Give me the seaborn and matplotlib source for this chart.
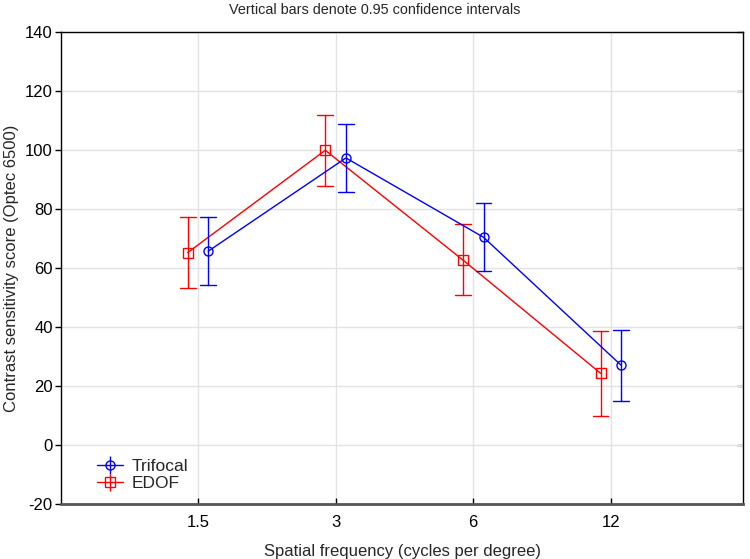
import numpy as np
import pandas as pd
import matplotlib
matplotlib.use("Agg")
import matplotlib.pyplot as plt
import seaborn as sns

# ---- data ----
frequencies = ["1.5", "3", "6", "12"]
trifocal_mean = [65.7, 97.3, 70.4, 27.0]
trifocal_low = [54.2, 85.8, 58.9, 15.0]
trifocal_high = [77.2, 108.9, 82.0, 39.0]
edof_mean = [65.2, 99.9, 62.7, 24.3]
edof_low = [53.1, 87.7, 50.8, 9.7]
edof_high = [77.4, 111.9, 74.8, 38.7]
groups = ["Trifocal", "EDOF"]
colors = {"Trifocal": "#0000ff", "EDOF": "#ff0000"}
yticks = [-20, 0, 20, 40, 60, 80, 100, 120, 140]

# Long table: (low, mean, high) per point; median = mean, 100% interval = CI
rows = []
for g, m, lo, hi in [("Trifocal", trifocal_mean, trifocal_low, trifocal_high),
                     ("EDOF", edof_mean, edof_low, edof_high)]:
    for f, a, b, c in zip(frequencies, lo, m, hi):
        for v in (a, b, c):
            rows.append({"freq": f, "group": g, "score": v})
df = pd.DataFrame(rows)

sns.set_style("white")
plt.rcParams["font.family"] = ["Liberation Sans", "DejaVu Sans"]

fig = plt.figure(figsize=(7.5, 5.59), dpi=100)
ax = fig.add_axes([0.0813, 0.0984, 0.9094, 0.8444])

sns.pointplot(data=df, x="freq", y="score", hue="group",
              order=frequencies, hue_order=["EDOF", "Trifocal"],
              palette=colors, estimator="median", errorbar=("pi", 100),
              dodge=0.15, markers=["s", "o"], capsize=0.115,
              linewidth=1.0, err_kws={"linewidth": 1.0},
              markersize=6.5, ax=ax)

for ln in ax.lines:
    ln.set_markerfacecolor("none")
    ln.set_markeredgewidth(1.0)

if ax.get_legend() is not None:
    ax.get_legend().remove()

# legend handles with errorbar style
handles = []
for g in groups:
    c = ax.errorbar([], [], yerr=[], fmt="-", marker="o" if g == "Trifocal" else "s",
                    color=colors[g], mfc="none", ms=6.5, lw=1.0, capsize=7, label=g)
    handles.append(c)
leg = ax.legend(handles, groups, loc="lower left", bbox_to_anchor=(0.043, 0.012),
                frameon=False, fontsize=12.5, handlelength=1.5,
                handletextpad=0.5, labelspacing=0.12, borderaxespad=0.0)

ax.set_xlim(-0.995, 3.96)
ax.set_ylim(-20, 140)
ax.set_yticks(yticks)
ax.set_yticklabels([str(t) for t in yticks])
ax.grid(True, color="#e3e3e3", linewidth=1.0)
ax.set_axisbelow(True)

for s in ["left", "top", "right"]:
    ax.spines[s].set_color("black")
    ax.spines[s].set_linewidth(1.0)
ax.spines["bottom"].set_color("#555555")
ax.spines["bottom"].set_linewidth(2.0)

ax.tick_params(axis="y", left=True, right=False, direction="out", length=4,
               width=1, colors="black", labelsize=12, pad=2)
ax.tick_params(axis="x", bottom=True, direction="in", length=4, width=1,
               colors="black", labelsize=12, pad=8)

sec = ax.secondary_yaxis("right")
sec.set_yticks(yticks)
sec.tick_params(axis="y", direction="in", length=4, width=1, labelright=False)
sec.spines["right"].set_visible(False)

ax.set_xlabel("Spatial frequency (cycles per degree)", fontsize=12, labelpad=10)
ax.set_ylabel("Contrast sensitivity score (Optec 6500)", fontsize=12, labelpad=4)
fig.text(0.5, 0.995, "Vertical bars denote 0.95 confidence intervals",
         ha="center", va="top", fontsize=10.4)

fig.savefig("out.png", dpi=100)
